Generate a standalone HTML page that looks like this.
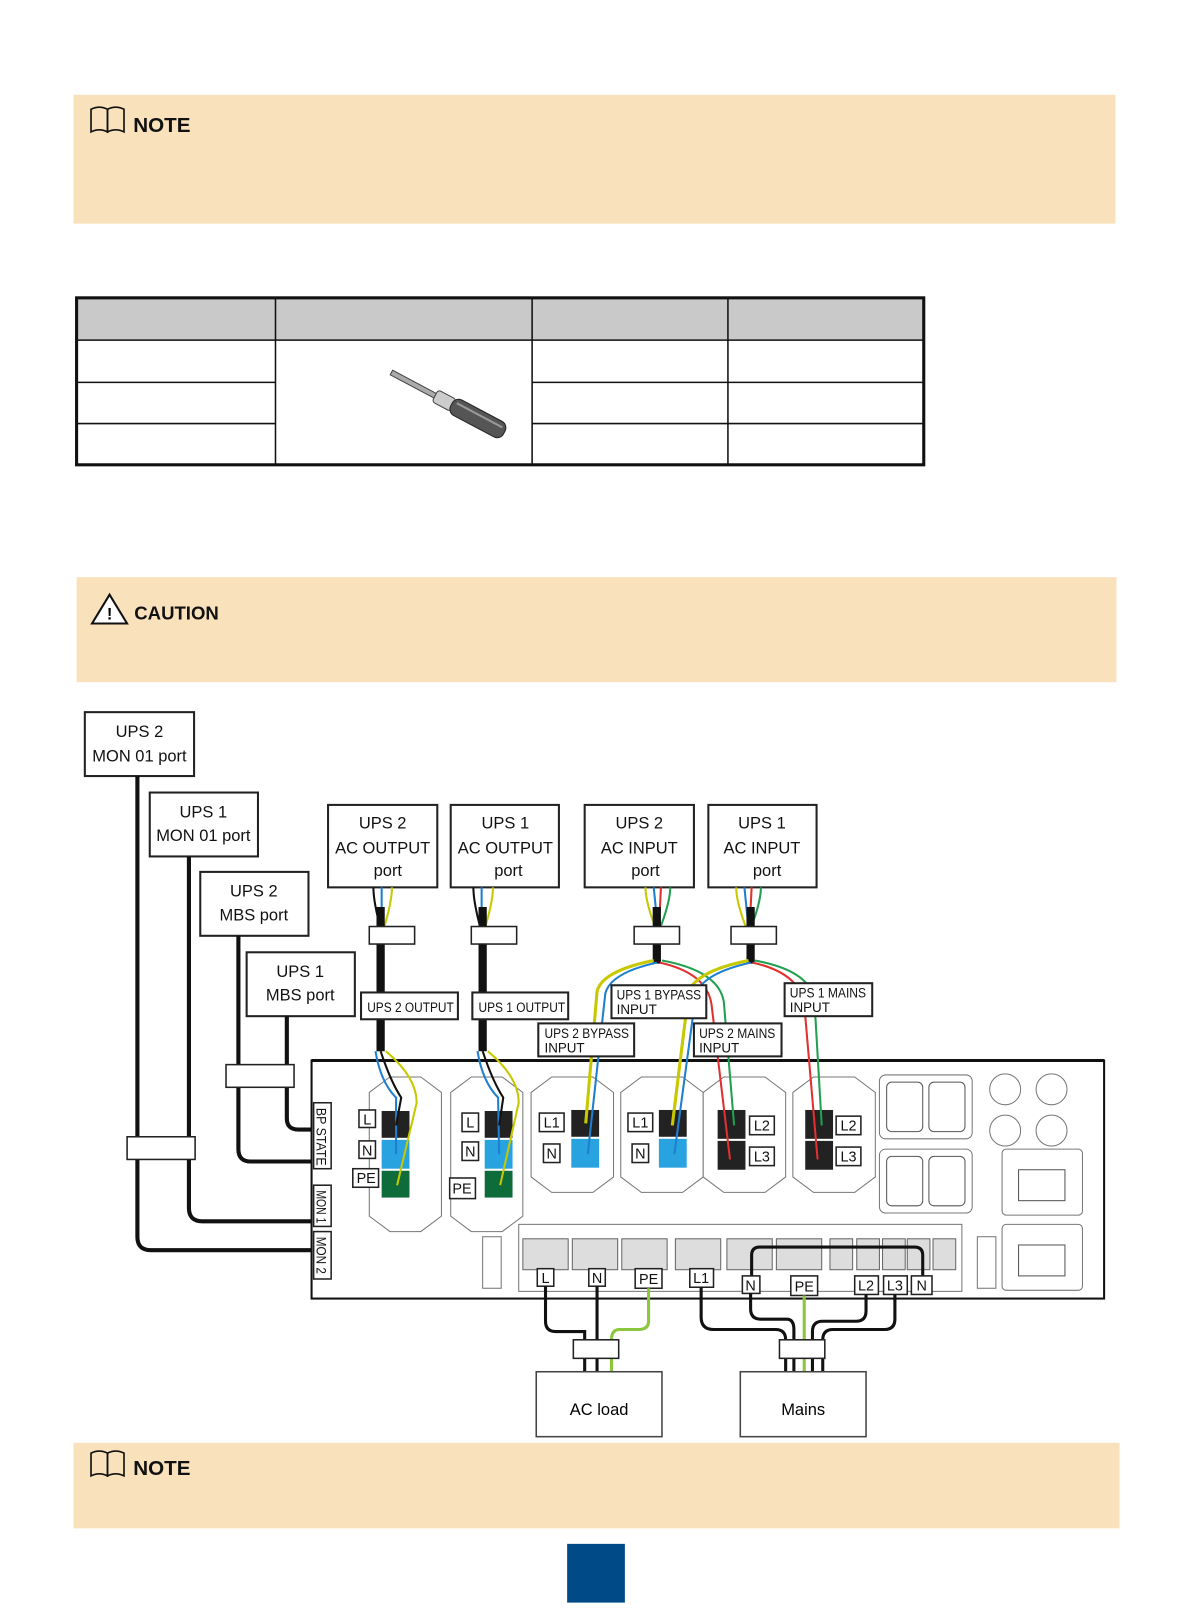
<!DOCTYPE html>
<html><head><meta charset="utf-8"><style>
html,body{margin:0;padding:0;background:#fff;}
svg{display:block;}
text{font-family:"Liberation Sans",sans-serif;}
</style></head><body>
<svg width="1191" height="1616" viewBox="0 0 1155 1568" xmlns="http://www.w3.org/2000/svg">
<rect width="1155" height="1568" fill="#fff"/>
<!-- NOTE 1 -->
<rect x="71" y="92" width="1011" height="125" fill="#f9e2bb"/>
<g fill="none" stroke="#111" stroke-width="1.6">
<path d="M88 106 q8-4 16 0 v22 q-8-4-16 0z"/><path d="M104 106 q8-4 16 0 v22 q-8-4-16 0z"/>
</g>
<text x="129" y="128" font-size="20" font-weight="bold" fill="#111">NOTE</text>
<!-- TABLE -->
<rect x="74" y="289" width="822" height="41" fill="#c9c9c9"/>
<g stroke="#111" stroke-width="1.5" fill="none">
<line x1="74" y1="330" x2="896" y2="330"/>
<line x1="267" y1="289" x2="267" y2="451"/><line x1="516" y1="289" x2="516" y2="451"/><line x1="706" y1="289" x2="706" y2="451"/>
<line x1="74" y1="371" x2="267" y2="371"/><line x1="74" y1="411" x2="267" y2="411"/>
<line x1="516" y1="371" x2="896" y2="371"/><line x1="516" y1="411" x2="896" y2="411"/>
</g>
<rect x="74" y="289" width="822" height="162" fill="none" stroke="#111" stroke-width="3"/>
<g transform="rotate(28 430 390)">
<rect x="372" y="386" width="50" height="5" fill="#aaa" stroke="#444" stroke-width="1"/>
<rect x="420" y="382" width="20" height="13" rx="3" fill="#ccc" stroke="#444"/>
<rect x="438" y="380" width="58" height="17" rx="7" fill="#555" stroke="#222"/>
<line x1="442" y1="385" x2="492" y2="385" stroke="#999" stroke-width="2"/>
</g>
<!-- CAUTION -->
<rect x="74" y="560" width="1009" height="102" fill="#f9e2bb"/>
<path d="M106 577 L123 605 L89 605 Z" fill="#fff" stroke="#111" stroke-width="2"/>
<text x="106" y="601" font-size="16" font-weight="bold" text-anchor="middle">!</text>
<text x="130" y="601" font-size="18" font-weight="bold" fill="#111">CAUTION</text>
<!-- label boxes -->
<g fill="#fff" stroke="#222" stroke-width="2">
<rect x="82" y="691" width="106" height="62"/><rect x="145" y="769" width="105" height="62"/>
<rect x="194" y="846" width="105" height="62"/><rect x="239" y="924" width="105" height="62"/>
<rect x="318" y="781" width="106" height="80"/><rect x="437" y="781" width="105" height="80"/>
<rect x="567" y="781" width="106" height="80"/><rect x="687" y="781" width="105" height="80"/>
</g>
<g font-size="16" text-anchor="middle" fill="#111">
<text x="135" y="715">UPS 2</text><text x="135" y="739">MON 01 port</text>
<text x="197" y="793">UPS 1</text><text x="197" y="816">MON 01 port</text>
<text x="246" y="870">UPS 2</text><text x="246" y="893">MBS port</text>
<text x="291" y="948">UPS 1</text><text x="291" y="971">MBS port</text>
<text x="371" y="804">UPS 2</text><text x="371" y="828">AC OUTPUT</text><text x="376" y="850">port</text>
<text x="490" y="804">UPS 1</text><text x="490" y="828">AC OUTPUT</text><text x="493" y="850">port</text>
<text x="620" y="804">UPS 2</text><text x="620" y="828">AC INPUT</text><text x="626" y="850">port</text>
<text x="739" y="804">UPS 1</text><text x="739" y="828">AC INPUT</text><text x="744" y="850">port</text>
</g>
<!-- left cables -->
<g fill="none" stroke="#111" stroke-width="4">
<path d="M133 753 V1200 q0 13 13 13 H305"/>
<path d="M183 831 V1172 q0 13 13 13 H305"/>
<path d="M231 908 V1115 q0 12 12 12 H305"/>
<path d="M278 986 V1085 q0 11 11 11 H305"/>
</g>
<rect x="123" y="1103" width="66" height="22" fill="#fff" stroke="#222" stroke-width="1.5"/>
<rect x="219" y="1033" width="66" height="22" fill="#fff" stroke="#222" stroke-width="1.5"/>
<!-- panel -->
<rect x="302" y="1029" width="769" height="231" fill="#fff" stroke="#111" stroke-width="2"/>
<line x1="302" y1="1029" x2="1071" y2="1029" stroke="#111" stroke-width="3"/>
<g fill="#fff" stroke="#777" stroke-width="1">
<path d="M358 1060 l20-15 h30 l20 15 v120 l-20 15 h-30 l-20-15z"/>
<path d="M437 1060 l20-15 h30 l20 15 v120 l-20 15 h-30 l-20-15z"/>
<path d="M515 1060 l20-15 h40 l20 15 v82 l-20 15 h-40 l-20-15z"/>
<path d="M602 1060 l20-15 h40 l20 15 v82 l-20 15 h-40 l-20-15z"/>
<path d="M682 1060 l20-15 h40 l20 15 v82 l-20 15 h-40 l-20-15z"/>
<path d="M769 1060 l20-15 h40 l20 15 v82 l-20 15 h-40 l-20-15z"/>
<rect x="853" y="1043" width="90" height="62" rx="6"/><rect x="853" y="1115" width="90" height="62" rx="6"/>
<rect x="972" y="1115" width="78" height="64" rx="4"/><rect x="972" y="1188" width="78" height="64" rx="4"/>
<circle cx="975" cy="1057" r="15"/><circle cx="1020" cy="1057" r="15"/><circle cx="975" cy="1097" r="15"/><circle cx="1020" cy="1097" r="15"/>
<rect x="503" y="1188" width="430" height="65"/>
<rect x="468" y="1200" width="18" height="50"/><rect x="948" y="1200" width="18" height="50"/>
</g>
<g>
<rect x="370" y="1078" width="27" height="26" fill="#222"/><rect x="370" y="1106" width="27" height="28" fill="#29a3e0"/><rect x="370" y="1136" width="27" height="26" fill="#0e6b3a"/>
<rect x="470" y="1078" width="27" height="26" fill="#222"/><rect x="470" y="1106" width="27" height="28" fill="#29a3e0"/><rect x="470" y="1136" width="27" height="26" fill="#0e6b3a"/>
<rect x="554" y="1077" width="27" height="26" fill="#222"/><rect x="554" y="1105" width="27" height="28" fill="#29a3e0"/>
<rect x="639" y="1077" width="27" height="26" fill="#222"/><rect x="639" y="1105" width="27" height="28" fill="#29a3e0"/>
<rect x="696" y="1077" width="27" height="28" fill="#222"/><rect x="696" y="1107" width="27" height="28" fill="#222"/>
<rect x="781" y="1077" width="27" height="28" fill="#222"/><rect x="781" y="1107" width="27" height="28" fill="#222"/>
</g>
<g fill="#fff" stroke="#555" stroke-width="1">
<rect x="860" y="1050" width="35" height="48" rx="5"/><rect x="901" y="1050" width="35" height="48" rx="5"/>
<rect x="860" y="1122" width="35" height="48" rx="5"/><rect x="901" y="1122" width="35" height="48" rx="5"/>
<rect x="988" y="1135" width="45" height="30"/><rect x="988" y="1208" width="45" height="30"/>
</g>
<g fill="#ddd" stroke="#666" stroke-width="1">
<rect x="507" y="1202" width="44" height="30"/><rect x="555" y="1202" width="44" height="30"/><rect x="603" y="1202" width="44" height="30"/>
<rect x="655" y="1202" width="44" height="30"/><rect x="705" y="1202" width="44" height="30"/><rect x="753" y="1202" width="44" height="30"/>
<rect x="805" y="1202" width="22" height="30"/><rect x="831" y="1202" width="22" height="30"/><rect x="856" y="1202" width="22" height="30"/><rect x="880" y="1202" width="22" height="30"/><rect x="905" y="1202" width="22" height="30"/>
</g>
<path d="M729 1238 v-20 q0-8 8-8 h150 q8 0 8 8 v20" fill="none" stroke="#111" stroke-width="3"/>
<!-- output cables -->
<g fill="none" stroke-width="2">
<path d="M362 861 q0 14 7 40" stroke="#111"/><path d="M370 861 v40" stroke="#1e7fd0"/><path d="M380 861 q0 14 -8 40" stroke="#c8c800"/>
<path d="M459 861 q0 14 7 40" stroke="#111"/><path d="M467 861 v40" stroke="#1e7fd0"/><path d="M478 861 q0 14 -8 40" stroke="#c8c800"/>
<path d="M626 861 q0 14 10 40" stroke="#c8c800"/><path d="M634 861 l4 40" stroke="#1e7fd0"/><path d="M641 861 l-2 40" stroke="#e03030"/><path d="M650 861 q0 14 -10 40" stroke="#20a050"/>
<path d="M714 861 q0 14 10 40" stroke="#c8c800"/><path d="M722 861 l4 40" stroke="#1e7fd0"/><path d="M729 861 l-2 40" stroke="#e03030"/><path d="M738 861 q0 14 -10 40" stroke="#20a050"/>
</g>
<g stroke="#111" stroke-width="8"><line x1="369" y1="880" x2="369" y2="1020"/><line x1="468" y1="880" x2="468" y2="1020"/><line x1="637" y1="880" x2="637" y2="935"/><line x1="728" y1="880" x2="728" y2="935"/></g>
<g fill="#fff" stroke="#222" stroke-width="1.5">
<rect x="358" y="899" width="44" height="17"/><rect x="457" y="899" width="44" height="17"/>
<rect x="615" y="899" width="44" height="17"/><rect x="709" y="899" width="44" height="17"/>
</g>
<!-- input wires -->
<g fill="none" stroke-width="2">
<path d="M634 932 q-50 10 -55 30 L568 1090" stroke="#c8c800" stroke-width="3"/>
<path d="M637 934 q-45 10 -50 30 L570 1120" stroke="#1e7fd0"/>
<path d="M640 934 q45 10 50 40 L708 1125" stroke="#e03030"/>
<path d="M642 932 q55 10 60 40 L712 1092" stroke="#20a050"/>
<path d="M726 932 q-50 10 -58 30 L652 1092" stroke="#c8c800" stroke-width="3"/>
<path d="M728 934 q-45 10 -53 30 L654 1120" stroke="#1e7fd0"/>
<path d="M730 934 q45 10 50 40 L793 1125" stroke="#e03030"/>
<path d="M732 932 q55 10 58 40 L797 1092" stroke="#20a050"/>
<path d="M364 1020 q5 30 20 45 L384 1120" stroke="#1e7fd0"/><path d="M369 1020 q10 30 20 45 L384 1092" stroke="#111"/><path d="M374 1020 q30 25 30 50 L385 1150" stroke="#c8c800"/>
<path d="M463 1020 q5 30 20 45 L484 1120" stroke="#1e7fd0"/><path d="M468 1020 q10 30 20 45 L484 1092" stroke="#111"/><path d="M473 1020 q30 25 30 50 L485 1150" stroke="#c8c800"/>
</g>
<g fill="#fff" stroke="#222" stroke-width="2">
<rect x="350" y="963" width="94" height="26"/><rect x="458" y="963" width="93" height="26"/>
<rect x="593" y="956" width="92" height="32"/><rect x="522" y="993" width="93" height="32"/>
<rect x="673" y="993" width="85" height="32"/><rect x="761" y="954" width="85" height="32"/>
</g>
<g font-size="13" fill="#111" lengthAdjust="spacingAndGlyphs">
<text x="356" y="982" textLength="84" lengthAdjust="spacingAndGlyphs">UPS 2 OUTPUT</text>
<text x="464" y="982" textLength="84" lengthAdjust="spacingAndGlyphs">UPS 1 OUTPUT</text>
<text x="598" y="970" textLength="82" lengthAdjust="spacingAndGlyphs">UPS 1 BYPASS</text><text x="598" y="984">INPUT</text>
<text x="528" y="1007" textLength="82" lengthAdjust="spacingAndGlyphs">UPS 2 BYPASS</text><text x="528" y="1021">INPUT</text>
<text x="678" y="1007" textLength="74" lengthAdjust="spacingAndGlyphs">UPS 2 MAINS</text><text x="678" y="1021">INPUT</text>
<text x="766" y="968" textLength="74" lengthAdjust="spacingAndGlyphs">UPS 1 MAINS</text><text x="766" y="982">INPUT</text>
</g>
<!-- side labels -->
<g fill="#fff" stroke="#222" stroke-width="1.5">
<rect x="304" y="1070" width="17" height="64"/><rect x="304" y="1150" width="17" height="40"/><rect x="304" y="1195" width="17" height="46"/>
</g>
<g font-size="13" fill="#111">
<text transform="translate(307 1075) rotate(90)" textLength="56" lengthAdjust="spacingAndGlyphs">BP STATE</text>
<text transform="translate(307 1155) rotate(90)" textLength="32" lengthAdjust="spacingAndGlyphs">MON 1</text>
<text transform="translate(307 1200) rotate(90)" textLength="36" lengthAdjust="spacingAndGlyphs">MON 2</text>
</g>
<!-- terminal labels -->
<g fill="#fff" stroke="#222" stroke-width="1.5">
<rect x="348" y="1077" width="16" height="17"/><rect x="348" y="1107" width="16" height="17"/><rect x="342" y="1134" width="25" height="18"/>
<rect x="448" y="1080" width="16" height="18"/><rect x="448" y="1108" width="16" height="18"/><rect x="436" y="1143" width="25" height="20"/>
<rect x="523" y="1080" width="24" height="18"/><rect x="527" y="1110" width="16" height="18"/>
<rect x="609" y="1080" width="24" height="18"/><rect x="613" y="1110" width="16" height="18"/>
<rect x="727" y="1083" width="24" height="18"/><rect x="727" y="1113" width="24" height="18"/>
<rect x="811" y="1083" width="24" height="18"/><rect x="811" y="1113" width="24" height="18"/>
<rect x="521" y="1231" width="16" height="17"/><rect x="571" y="1231" width="16" height="17"/><rect x="616" y="1231" width="26" height="19"/>
<rect x="669" y="1231" width="23" height="18"/><rect x="720" y="1238" width="17" height="17"/><rect x="767" y="1238" width="26" height="19"/>
<rect x="829" y="1238" width="23" height="18"/><rect x="857" y="1238" width="23" height="18"/><rect x="884" y="1238" width="20" height="18"/>
</g>
<g font-size="14" fill="#111" text-anchor="middle">
<text x="356" y="1091">L</text><text x="356" y="1121">N</text><text x="355" y="1148">PE</text>
<text x="456" y="1094">L</text><text x="456" y="1122">N</text><text x="448" y="1158">PE</text>
<text x="535" y="1094">L1</text><text x="535" y="1124">N</text>
<text x="621" y="1094">L1</text><text x="621" y="1124">N</text>
<text x="739" y="1097">L2</text><text x="739" y="1127">L3</text>
<text x="823" y="1097">L2</text><text x="823" y="1127">L3</text>
<text x="529" y="1245">L</text><text x="579" y="1245">N</text><text x="629" y="1246">PE</text>
<text x="680" y="1245">L1</text><text x="728" y="1252">N</text><text x="780" y="1253">PE</text>
<text x="840" y="1252">L2</text><text x="868" y="1252">L3</text><text x="894" y="1252">N</text>
</g>
<!-- bottom cables -->
<g fill="none" stroke-width="3">
<path d="M529 1248 V1282 q0 10 10 10 h28 v40" stroke="#111"/>
<path d="M579 1248 V1300 v32" stroke="#111"/>
<path d="M629 1250 V1282 q0 8 -10 8 h-18 q-8 0 -8 10 v32" stroke="#8cc63f"/>
<path d="M680 1249 V1278 q0 12 12 12 h60 q10 0 10 10 v32" stroke="#111"/>
<path d="M728 1255 V1270 q0 10 10 10 h25 q7 0 7 10 v42" stroke="#111"/>
<path d="M780 1257 V1332" stroke="#8cc63f"/>
<path d="M840 1256 V1272 q0 10 -10 10 h-32 q-10 0 -10 10 v40" stroke="#111"/>
<path d="M868 1256 V1280 q0 10 -10 10 h-50 q-10 0 -10 10 v32" stroke="#111"/>
</g>
<rect x="556" y="1300" width="44" height="18" fill="#fff" stroke="#222" stroke-width="1.5"/>
<rect x="756" y="1300" width="44" height="18" fill="#fff" stroke="#222" stroke-width="1.5"/>
<rect x="520" y="1331" width="122" height="63" fill="#fff" stroke="#444" stroke-width="1.5"/>
<rect x="718" y="1331" width="122" height="63" fill="#fff" stroke="#444" stroke-width="1.5"/>
<text x="581" y="1373" font-size="16" text-anchor="middle">AC load</text>
<text x="779" y="1373" font-size="16" text-anchor="middle">Mains</text>
<!-- NOTE 2 -->
<rect x="71" y="1400" width="1015" height="83" fill="#f9e2bb"/>
<g fill="none" stroke="#111" stroke-width="1.6">
<path d="M88 1410 q8-4 16 0 v22 q-8-4-16 0z"/><path d="M104 1410 q8-4 16 0 v22 q-8-4-16 0z"/>
</g>
<text x="129" y="1431" font-size="20" font-weight="bold" fill="#111">NOTE</text>
<rect x="550" y="1498" width="56" height="57" fill="#004a87"/>
</svg>
</body></html>
